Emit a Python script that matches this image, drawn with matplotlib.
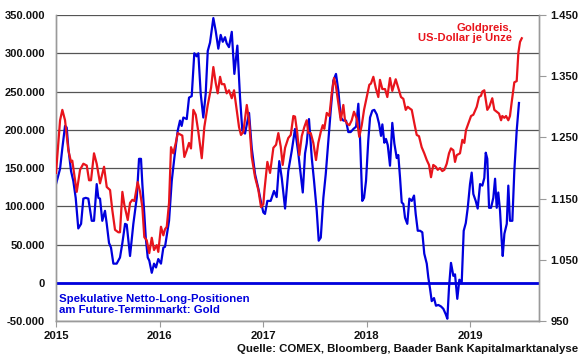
import numpy as np
import matplotlib
matplotlib.use("Agg")
import matplotlib.pyplot as plt
from matplotlib.ticker import FuncFormatter

plt.rcParams['font.family'] = ['Liberation Sans', 'DejaVu Sans']
plt.rcParams['font.weight'] = 'bold'

# Netto-Long-Positionen (Kontrakte), Zeit in Jahren ab Anfang 2015
blue_t = [0.000, 0.039, 0.061, 0.087, 0.103, 0.119, 0.145, 0.167, 0.190, 0.215,
          0.242, 0.264, 0.287, 0.312, 0.345, 0.367, 0.393, 0.409, 0.425, 0.447,
          0.473, 0.490, 0.512, 0.531, 0.554, 0.586, 0.618, 0.641, 0.667, 0.683,
          0.715, 0.747, 0.780, 0.802, 0.821, 0.834, 0.853, 0.867, 0.886, 0.901,
          0.925, 0.947, 0.966, 0.988, 1.014, 1.037, 1.053, 1.092, 1.118, 1.143,
          1.176, 1.198, 1.214, 1.230, 1.263, 1.285, 1.311, 1.336, 1.359, 1.375,
          1.398, 1.423, 1.446, 1.466, 1.488, 1.520, 1.543, 1.568, 1.591, 1.611,
          1.633, 1.649, 1.671, 1.698, 1.723, 1.752, 1.778, 1.800, 1.826, 1.865,
          1.891, 1.923, 1.955, 1.981, 2.003, 2.019, 2.042, 2.074, 2.106, 2.132,
          2.157, 2.181, 2.213, 2.244, 2.277, 2.309, 2.341, 2.364, 2.384, 2.406,
          2.422, 2.444, 2.471, 2.493, 2.519, 2.538, 2.558, 2.583, 2.606, 2.631,
          2.654, 2.679, 2.705, 2.728, 2.751, 2.776, 2.802, 2.824, 2.847, 2.873,
          2.899, 2.921, 2.937, 2.959, 2.976, 2.995, 3.017, 3.034, 3.056, 3.075,
          3.099, 3.121, 3.140, 3.153, 3.172, 3.188, 3.205, 3.227, 3.249, 3.269,
          3.292, 3.307, 3.324, 3.340, 3.356, 3.372, 3.394, 3.414, 3.437, 3.459,
          3.475, 3.495, 3.517, 3.539, 3.558, 3.582, 3.597, 3.614, 3.630, 3.652,
          3.671, 3.694, 3.720, 3.742, 3.765, 3.781, 3.797, 3.816, 3.839, 3.855,
          3.877, 3.897, 3.920, 3.939, 3.959, 3.978, 4.000, 4.016, 4.032, 4.055,
          4.074, 4.097, 4.119, 4.138, 4.152, 4.167, 4.184, 4.203, 4.225, 4.242,
          4.258, 4.273, 4.290, 4.306, 4.316, 4.332, 4.355, 4.370, 4.386, 4.409,
          4.428, 4.451, 4.473]
blue_k = [129, 149, 176, 205, 203, 176, 146, 133, 111, 71,
          77, 110, 111, 110, 81, 81, 129, 111, 110, 81,
          94, 77, 52, 46, 25, 25, 33, 52, 77, 76,
          35, 77, 111, 162, 162, 129, 90, 59, 33, 29,
          13, 25, 20, 31, 25, 46, 47, 81, 133, 163,
          199, 212, 205, 216, 214, 242, 244, 300, 296, 300,
          247, 216, 247, 303, 314, 346, 329, 306, 324, 315,
          321, 313, 308, 328, 273, 310, 242, 199, 195, 222,
          176, 142, 123, 105, 92, 90, 107, 107, 120, 112,
          159, 137, 97, 146, 172, 201, 169, 142, 118, 169,
          182, 214, 163, 133, 94, 55, 59, 111, 142, 186,
          225, 264, 273, 251, 216, 212, 212, 197, 197, 201,
          204, 234, 190, 107, 111, 133, 186, 216, 225, 226,
          220, 208, 192, 207, 183, 188, 180, 153, 209, 182,
          163, 167, 137, 105, 103, 85, 77, 110, 107, 114,
          90, 68, 68, 66, 38, 25, 7, -8, -24, -20,
          -30, -29, -31, -34, -41, -47, -6, 26, 9, 11,
          -21, 4, 1, 68, 78, 98, 129, 144, 116, 107,
          97, 129, 127, 137, 170, 162, 98, 98, 111, 136,
          98, 118, 94, 55, 35, 64, 77, 127, 81, 81,
          146, 199, 235]

# Goldpreis in US-Dollar je Unze
red_t = [0.000, 0.039, 0.061, 0.087, 0.119, 0.145, 0.157, 0.184, 0.200, 0.232,
         0.264, 0.297, 0.319, 0.338, 0.367, 0.393, 0.425, 0.464, 0.490, 0.522,
         0.544, 0.570, 0.602, 0.618, 0.641, 0.660, 0.693, 0.715, 0.737, 0.757,
         0.789, 0.812, 0.834, 0.853, 0.876, 0.901, 0.925, 0.947, 0.973, 0.988,
         1.014, 1.037, 1.053, 1.070, 1.092, 1.111, 1.133, 1.157, 1.176, 1.198,
         1.220, 1.240, 1.263, 1.285, 1.304, 1.327, 1.350, 1.375, 1.408, 1.433,
         1.466, 1.498, 1.520, 1.543, 1.562, 1.585, 1.601, 1.626, 1.649, 1.671,
         1.698, 1.720, 1.739, 1.768, 1.787, 1.810, 1.843, 1.865, 1.891, 1.923,
         1.955, 1.981, 2.003, 2.014, 2.042, 2.068, 2.100, 2.126, 2.148, 2.171,
         2.190, 2.213, 2.244, 2.268, 2.293, 2.309, 2.331, 2.351, 2.374, 2.399,
         2.422, 2.438, 2.461, 2.486, 2.512, 2.534, 2.558, 2.577, 2.592, 2.616,
         2.641, 2.664, 2.686, 2.705, 2.728, 2.751, 2.776, 2.792, 2.815, 2.834,
         2.857, 2.879, 2.905, 2.930, 2.954, 2.976, 3.002, 3.027, 3.043, 3.066,
         3.089, 3.114, 3.130, 3.153, 3.179, 3.201, 3.227, 3.249, 3.282, 3.307,
         3.333, 3.356, 3.379, 3.398, 3.420, 3.437, 3.462, 3.485, 3.507, 3.533,
         3.558, 3.582, 3.604, 3.623, 3.645, 3.669, 3.688, 3.710, 3.732, 3.752,
         3.775, 3.797, 3.816, 3.839, 3.855, 3.871, 3.903, 3.926, 3.945, 3.961,
         3.984, 4.010, 4.032, 4.065, 4.087, 4.106, 4.119, 4.138, 4.152, 4.167,
         4.186, 4.215, 4.235, 4.258, 4.280, 4.300, 4.312, 4.332, 4.348, 4.370,
         4.386, 4.403, 4.428, 4.451, 4.467, 4.483, 4.500]
red_usd = [1192, 1278, 1295, 1278, 1229, 1210, 1212, 1180, 1161, 1197,
           1207, 1204, 1180, 1180, 1224, 1207, 1175, 1202, 1169, 1164,
           1131, 1099, 1095, 1095, 1161, 1140, 1115, 1143, 1148, 1146,
           1177, 1161, 1136, 1087, 1082, 1061, 1086, 1066, 1074, 1063,
           1104, 1090, 1100, 1104, 1143, 1234, 1224, 1241, 1257, 1255,
           1253, 1218, 1229, 1241, 1232, 1295, 1287, 1259, 1216, 1267,
           1303, 1331, 1365, 1339, 1322, 1349, 1337, 1337, 1322, 1327,
           1314, 1327, 1303, 1267, 1254, 1259, 1303, 1278, 1218, 1185,
           1164, 1136, 1141, 1164, 1210, 1192, 1233, 1238, 1257, 1235,
           1205, 1233, 1249, 1254, 1285, 1284, 1257, 1221, 1252, 1267,
           1278, 1257, 1257, 1241, 1213, 1241, 1259, 1270, 1264, 1290,
           1285, 1322, 1347, 1333, 1306, 1278, 1303, 1278, 1272, 1270,
           1278, 1292, 1281, 1251, 1270, 1295, 1316, 1336, 1338, 1349,
           1331, 1316, 1344, 1329, 1329, 1316, 1347, 1326, 1345, 1331,
           1316, 1313, 1295, 1300, 1297, 1295, 1273, 1254, 1252, 1234,
           1224, 1213, 1205, 1185, 1205, 1202, 1197, 1200, 1195, 1197,
           1207, 1224, 1232, 1229, 1210, 1221, 1224, 1246, 1241, 1262,
           1273, 1285, 1287, 1300, 1316, 1318, 1325, 1327, 1311, 1295,
           1300, 1314, 1295, 1292, 1289, 1278, 1285, 1282, 1285, 1278,
           1285, 1308, 1340, 1342, 1388, 1406, 1412]

years = [2015, 2016, 2017, 2018, 2019]
left_ticks = list(range(-50000, 350001, 50000))
right_ticks = [950, 1050, 1150, 1250, 1350, 1450]

BLUE = '#0000dd'
RED = '#e8141c'
GRID = '#555555'
SPINE = '#9a9a9a'

fig = plt.figure(figsize=(5.8, 3.59), dpi=100)
ax = fig.add_axes([0.0966, 0.1058, 0.8328, 0.8524])
ax2 = ax.twinx()

bx = 2015 + np.array(blue_t)
rx = 2015 + np.array(red_t)

ax.axhline(0, color=BLUE, lw=2.0, zorder=3)
ax.plot(bx, np.array(blue_k) * 1000, color=BLUE, lw=1.6, zorder=4)
ax2.plot(rx, red_usd, color=RED, lw=1.6, zorder=4)

ax.set_xlim(2015, 2019.667)
ax.set_ylim(-50000, 350000)
ax2.set_ylim(950, 1450)

def dotted(v, pos=None):
    return f"{v:,.0f}".replace(",", ".")

ax.set_yticks(left_ticks)
ax.yaxis.set_major_formatter(FuncFormatter(dotted))
ax2.set_yticks(right_ticks)
ax2.yaxis.set_major_formatter(FuncFormatter(dotted))
ax.set_xticks(years)
ax.set_xticklabels([str(y) for y in years])

ax.grid(axis='y', color=GRID, lw=0.9)
ax.set_axisbelow(True)

for a in (ax, ax2):
    for s in a.spines.values():
        s.set_color(SPINE)
        s.set_linewidth(1.0)
    a.spines['top'].set_visible(False)

ax.tick_params(axis='y', length=0, pad=8, labelsize=8.0, labelcolor='#111111')
ax.tick_params(axis='x', length=4, color=SPINE, pad=3, labelsize=8.2, labelcolor='#111111')
ax2.tick_params(axis='y', length=5, color=SPINE, pad=3, labelsize=8.0, labelcolor='#111111')

ax2.text(0.945, 0.975, 'Goldpreis,\nUS-Dollar je Unze', transform=ax2.transAxes,
         ha='right', va='top', color=RED, fontsize=8.1, fontweight='bold',
         linespacing=1.1)
ax.text(0.006, 0.054, 'Spekulative Netto-Long-Positionen\nam Future-Terminmarkt: Gold',
        transform=ax.transAxes, ha='left', va='center', color=BLUE,
        fontsize=8.2, fontweight='bold', linespacing=1.1)
fig.text(0.997, 0.028, 'Quelle: COMEX, Bloomberg, Baader Bank Kapitalmarktanalyse',
         ha='right', va='center', fontsize=8.2, fontweight='bold', color='#111111')

fig.savefig('out.png', dpi=100)
